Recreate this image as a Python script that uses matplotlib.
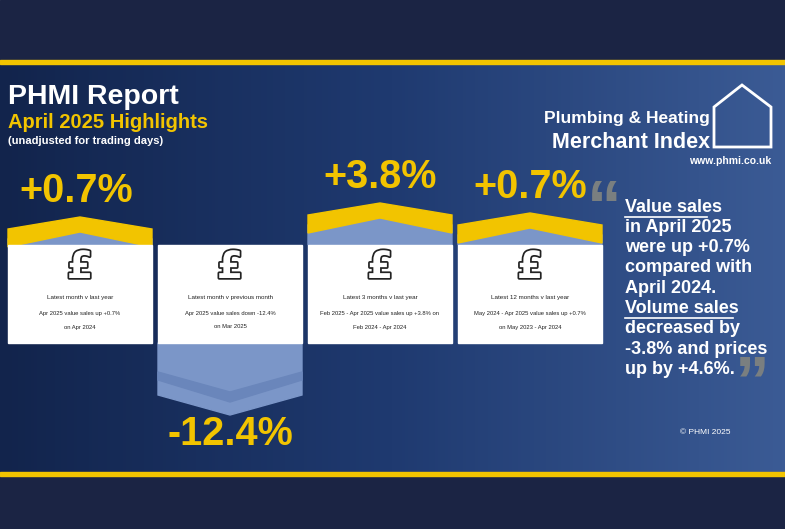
import matplotlib
matplotlib.use("Agg")
import matplotlib.pyplot as plt
import matplotlib.patheffects as pe
import numpy as np
from matplotlib.patches import Rectangle, Polygon
from matplotlib.colors import LinearSegmentedColormap

periods = ["Latest month v last year", "Latest month v previous month",
           "Latest 3 months v last year", "Latest 12 months v last year"]
values = [0.7, -12.4, 3.8, 0.7]
line1 = ["Apr 2025 value sales up +0.7%", "Apr 2025 value sales down -12.4%",
         "Feb 2025 - Apr 2025 value sales up +3.8% on", "May 2024 - Apr 2025 value sales up +0.7%"]
line2 = ["on Apr 2024", "on Mar 2025", "Feb 2024 - Apr 2024", "on May 2023 - Apr 2024"]
summary = ["Value sales", "in April 2025", "were up +0.7%", "compared with",
           "April 2024.", "Volume sales", "decreased by", "-3.8% and prices", "up by +4.6%."]

W, H = 785, 529
fig = plt.figure(figsize=(W/100, H/100), dpi=100)
ax = fig.add_axes([0, 0, 1, 1])
F = "Liberation Sans"

ax.add_patch(Rectangle((0, 0), W, H, color="#1b2444", zorder=0))
grad = np.linspace(0, 1, 256)[None, :]
cm = LinearSegmentedColormap.from_list("g", ["#12244c", "#1f3a70", "#3b5b95"])
ax.imshow(grad, extent=(0, W, 473, 63), cmap=cm, aspect="auto", zorder=1)
ax.set_xlim(0, W); ax.set_ylim(H, 0); ax.axis("off")
ax.add_patch(Rectangle((0, 60), W, 3.5, color="#f2c400", zorder=2))
ax.add_patch(Rectangle((0, 472), W, 3.5, color="#f2c400", zorder=2))

ax.text(8, 97, "PHMI Report", color="white", fontsize=20.5, fontweight="bold", family=F, va="center", zorder=5)
ax.text(8, 122, "April 2025 Highlights", color="#f2c400", fontsize=14.5, fontweight="bold", family=F, va="center", zorder=5)
ax.text(8, 141, "(unadjusted for trading days)", color="white", fontsize=8, fontweight="bold", family=F, va="center", zorder=5)

ax.text(710, 118, "Plumbing & Heating", color="white", fontsize=12.5, fontweight="bold", family=F, ha="right", va="center", zorder=5)
ax.text(710, 142, "Merchant Index", color="white", fontsize=15.5, fontweight="bold", family=F, ha="right", va="center", zorder=5)
ax.text(771, 161, "www.phmi.co.uk", color="white", fontsize=7.5, fontweight="bold", family=F, ha="right", va="center", zorder=5)
ax.add_patch(Polygon([(714, 147), (714, 107), (742, 85), (771, 107), (771, 147)], closed=True,
                     facecolor="none", edgecolor="white", lw=2, zorder=5))

card_x = [8, 158, 308, 458]
cw = 144
cards_top = 245
cards_bot = 343
for i, (x, v) in enumerate(zip(card_x, values)):
    if v > 0:
        a = 217 if v < 2 else 203
        if i == 3: a = 213
        ax.add_patch(Polygon([(x, cards_top), (x, a+22), (x+cw/2, a+8), (x+cw, a+22), (x+cw, cards_top)],
                             closed=True, color="#7b96c8", zorder=3))
        ax.add_patch(Polygon([(x, a+12), (x+cw/2, a), (x+cw, a+12), (x+cw, a+30), (x+cw/2, a+15), (x, a+30)],
                             closed=True, color="#f2c400", zorder=4))
        ax.text(x+cw/2 + (-4 if i == 0 else 0), a-26, f"+{v}%", color="#f2c400", fontsize=28.5,
                fontweight="bold", family=F, ha="center", va="center", zorder=5)
    else:
        ax.add_patch(Polygon([(x, cards_bot), (x, 395), (x+cw/2, 415), (x+cw, 395), (x+cw, cards_bot)],
                             closed=True, color="#7b96c8", zorder=3))
        ax.add_patch(Polygon([(x, 372), (x+cw/2, 392), (x+cw, 372), (x+cw, 380), (x+cw/2, 402), (x, 380)],
                             closed=True, color="#6a86bb", zorder=4))
        ax.text(x+cw/2, 434, f"{v}%", color="#f2c400", fontsize=28.5,
                fontweight="bold", family=F, ha="center", va="center", zorder=5)
    ax.add_patch(Rectangle((x, cards_top), cw, cards_bot-cards_top, color="white", zorder=5))
    ax.text(x+cw/2, 268, "£", color="white", fontsize=27, fontweight="bold", family="DejaVu Sans",
            ha="center", va="center", zorder=6,
            path_effects=[pe.withStroke(linewidth=2.5, foreground="#222")])
    ax.text(x+cw/2, 298, periods[i], fontsize=4.5, color="#222", family=F, ha="center", va="center", zorder=6)
    ax.text(x+cw/2, 313, line1[i], fontsize=4.2, color="#222", family=F, ha="center", va="center", zorder=6)
    ax.text(x+cw/2, 327, line2[i], fontsize=4.2, color="#222", family=F, ha="center", va="center", zorder=6)

ax.text(622, 210, "\u201c", color="#7a7f80", fontsize=50, fontweight="bold", family=F, ha="right", va="center", zorder=4)
ax.text(735, 385, "\u201d", color="#7a7f80", fontsize=50, fontweight="bold", family=F, ha="left", va="center", zorder=4)
for j, s in enumerate(summary):
    y = 207 + j*20.3
    ax.text(625, y, s, color="white", fontsize=13, fontweight="bold", family=F, va="center", zorder=6)
    if j in (0, 5):
        wpx = {0: 82, 5: 108}[j]
        ax.plot([625, 625+wpx], [y+9.5, y+9.5], color="white", lw=1.2, zorder=6)
ax.text(680, 433, "© PHMI 2025", color="white", fontsize=6, family=F, va="center", zorder=6)

fig.savefig("out.png", dpi=100)
